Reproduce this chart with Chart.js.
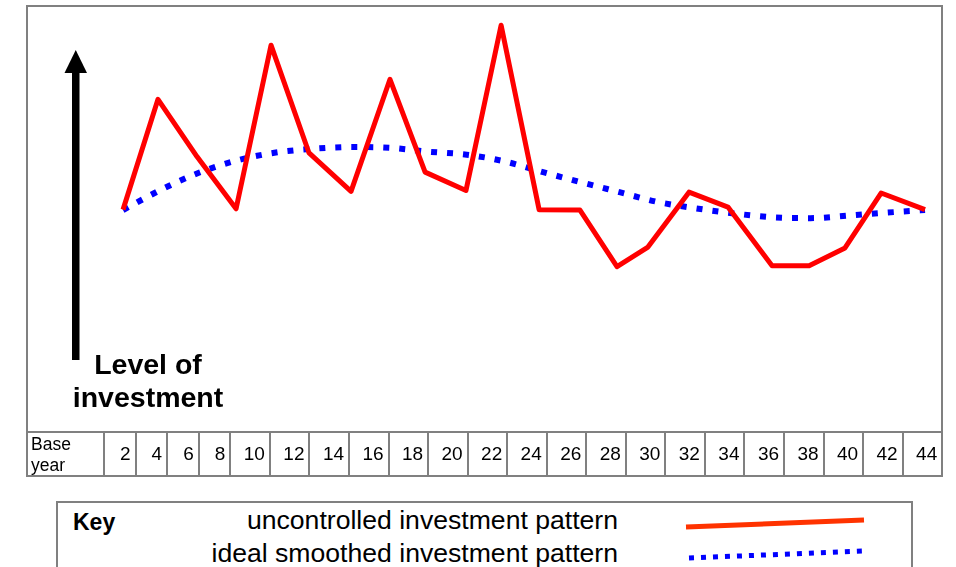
<!DOCTYPE html>
<html>
<head>
<meta charset="utf-8">
<script src="https://cdn.jsdelivr.net/npm/chart.js@4/dist/chart.umd.min.js"></script>
<style>
  body { margin: 0; width: 956px; height: 567px; overflow: hidden; background: #fff; font-family: "Liberation Sans", Arial, sans-serif; position: relative; }
  #chart { position: absolute; left: 0; top: 0; }
  .axis-title { position: absolute; left: 48px; top: 348px; width: 200px; text-align: center; font-weight: bold; font-size: 28.5px; line-height: 33px; color: #000; }
  .year-row { position: absolute; left: 26px; top: 431px; width: 917px; height: 46px; border: 2px solid #808080; box-sizing: border-box; display: flex; }
  .year-row div { box-sizing: border-box; flex: none; height: 100%; border-left: 2px solid #808080; display: flex; align-items: center; justify-content: flex-end; padding-right: 4px; font-size: 19px; color: #000; }
  .year-row div.base { border-left: none; justify-content: flex-start; align-items: flex-start; padding: 1px 0 0 3px; font-size: 17.5px; line-height: 21px; }
  .key { position: absolute; left: 56px; top: 501px; width: 857px; height: 100px; border: 2px solid #808080; box-sizing: border-box; }
  .key .title { position: absolute; left: 15px; top: 4px; font-weight: bold; font-size: 23px; line-height: 30px; }
  .key .names { position: absolute; right: 293px; top: 1px; text-align: right; font-size: 26.6px; line-height: 33px; white-space: nowrap; }
  .key svg { position: absolute; left: 0; top: 0; }
</style>
</head>
<body>
<canvas id="chart" width="956" height="440"></canvas>
<div class="axis-title">Level of<br>investment</div>
<div class="year-row" id="year_row"></div>
<div class="key">
  <div class="title">Key</div>
  <div class="names">uncontrolled investment pattern<br>ideal smoothed investment pattern</div>
  <svg width="857" height="70">
    <line x1="628" y1="24" x2="806" y2="17" stroke="#ff3300" stroke-width="5"/>
    <line x1="631" y1="55" x2="806" y2="48" stroke="#0000ff" stroke-width="5" stroke-dasharray="5 7"/>
  </svg>
</div>
<script>
const years = [2, 4, 6, 8, 10, 12, 14, 16, 18, 20, 22, 24, 26, 28, 30, 32, 34, 36, 38, 40, 42, 44];
const baseLabel = ["Base", "year"];

// hand-drawn uncontrolled pattern: vertices sit a little off the exact years
const uncontrolledAt = [2.0, 3.83, 5.88, 7.92, 9.75, 11.74, 13.94, 15.98, 17.82, 19.96, 21.8, 23.79, 25.93, 27.87, 29.49, 31.64, 33.68, 35.99, 37.93, 39.81, 41.7, 44.0];
const uncontrolled = [52.2, 78.1, 64.6, 52.4, 90.8, 65.5, 56.5, 82.8, 61.0, 56.7, 95.5, 52.2, 52.1, 38.8, 43.4, 56.3, 52.8, 39.0, 39.0, 43.2, 56.1, 52.2];

// ideal smoothed pattern, one value per year mark
const smoothed = [52.1, 56.9, 60.9, 63.8, 65.6, 66.5, 66.9, 66.7, 65.8, 65.1, 63.5, 61.0, 58.6, 56.3, 54.0, 52.5, 51.3, 50.4, 50.2, 50.8, 51.5, 52.1];

// row of year cells under the plot
const row = document.getElementById("year_row");
const base = document.createElement("div");
base.className = "base";
base.style.width = "75px";
base.innerHTML = baseLabel.join("<br>");
row.appendChild(base);
years.forEach((y) => {
  const cell = document.createElement("div");
  cell.style.width = String(y).length === 1 ? "31.6px" : "39.55px";
  cell.textContent = y;
  row.appendChild(cell);
});

// grey frame + the big "level" arrow
const framePlugin = {
  id: "frame",
  afterDraw(chart) {
    const { ctx, chartArea } = chart;
    ctx.save();
    ctx.strokeStyle = "#808080";
    ctx.lineWidth = 2;
    ctx.strokeRect(chartArea.left, chartArea.top, chartArea.right - chartArea.left, chartArea.bottom - chartArea.top);

    ctx.fillStyle = "#000";
    ctx.fillRect(72, 72, 7.5, 288);
    ctx.beginPath();
    ctx.moveTo(75.75, 50);
    ctx.lineTo(87, 73);
    ctx.lineTo(64.5, 73);
    ctx.closePath();
    ctx.fill();
    ctx.restore();
  },
};

const ctx = document.getElementById("chart").getContext("2d");
new Chart(ctx, {
  type: "line",
  data: {
    datasets: [
      {
        label: "uncontrolled investment pattern",
        data: uncontrolledAt.map((x, i) => ({ x: x, y: uncontrolled[i] })),
        borderColor: "#ff0000",
        borderWidth: 5,
        borderJoinStyle: "round",
        pointRadius: 0,
        tension: 0,
      },
      {
        label: "ideal smoothed investment pattern",
        data: years.map((y, i) => ({ x: y, y: smoothed[i] })),
        borderColor: "#0000ff",
        borderWidth: 6,
        borderDash: [6, 10],
        borderCapStyle: "butt",
        cubicInterpolationMode: "monotone",
        pointRadius: 0,
      },
    ],
  },
  options: {
    responsive: false,
    animation: false,
    devicePixelRatio: 1,
    layout: { padding: { left: 27, top: 6, right: 14, bottom: 8 } },
    plugins: { legend: { display: false }, tooltip: { enabled: false } },
    scales: {
      x: { type: "linear", min: -3.03, max: 44.89, display: false },
      y: { min: 0, max: 100, display: false },
    },
  },
  plugins: [framePlugin],
});
</script>
</body>
</html>
